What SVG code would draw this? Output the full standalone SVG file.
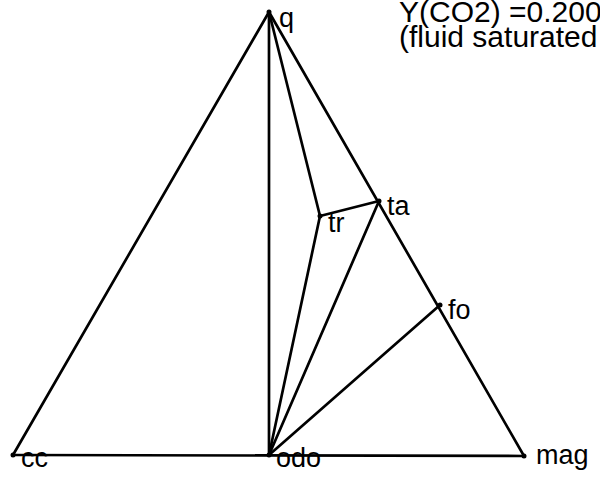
<svg xmlns="http://www.w3.org/2000/svg" width="600" height="480" viewBox="0 0 600 480">
<style>
.e{stroke:#000;stroke-width:2.7;fill:none;stroke-linecap:round}
.d{fill:#000}
text{font-family:"Liberation Sans",Arial,sans-serif;font-size:27px;fill:#000}
.t{font-size:30px}
</style>
<rect width="600" height="480" fill="#fff"/>
<g id="connectors">
<line class="e" x1="269" y1="12" x2="13" y2="455"/>
<line class="e" x1="269" y1="12" x2="524" y2="456"/>
<line class="e" x1="13" y1="455" x2="524" y2="456"/>
<line class="e" x1="269" y1="12" x2="269" y2="455"/>
<line class="e" x1="269" y1="12" x2="320" y2="216"/>
<line class="e" x1="320" y1="216" x2="379" y2="201"/>
<line class="e" x1="320" y1="216" x2="269" y2="455"/>
<line class="e" x1="379" y1="201" x2="269" y2="455"/>
<line class="e" x1="440" y1="305" x2="269" y2="455"/>
</g>
<g id="q"><circle class="d" cx="269" cy="12" r="2.5"/><text x="279" y="27">q</text></g>
<g id="tr"><circle class="d" cx="320" cy="216" r="2.5"/><text x="328" y="232">tr</text></g>
<g id="ta"><circle class="d" cx="379" cy="201" r="2.5"/><text x="387" y="215">ta</text></g>
<g id="fo"><circle class="d" cx="440" cy="305" r="2.5"/><text x="448" y="319">fo</text></g>
<g id="cc"><circle class="d" cx="13" cy="455" r="2.5"/><text x="21" y="467">cc</text></g>
<g id="odo"><circle class="d" cx="269" cy="455" r="2.5"/><text x="276" y="467">odo</text></g>
<g id="mag"><circle class="d" cx="524" cy="456" r="2.5"/><text x="536" y="464">mag</text></g>
<g id="title">
<text class="t" x="399" y="22">Y(CO2) =0.200</text>
<text class="t" x="399" y="47">(fluid saturated</text>
</g>
</svg>
